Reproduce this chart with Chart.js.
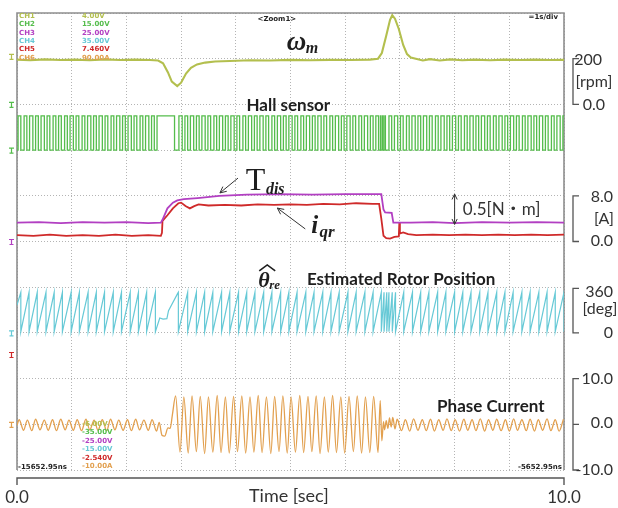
<!DOCTYPE html>
<html>
<head>
<meta charset="utf-8">
<script src="https://cdn.jsdelivr.net/npm/chart.js@4.4.1/dist/chart.umd.min.js"></script>
<style>
  html, body { margin: 0; padding: 0; background: #ffffff; }
  #wrap { width: 618px; height: 508px; }
</style>
</head>
<body>
<div id="wrap"><canvas id="scope" width="618" height="508"></canvas></div>
<script>
// ---- Recorded waveforms (time in seconds) ----

// CH1: rotor speed [rpm]
const speedTime = [0, 0.24, 0.51, 0.79, 1.06, 1.33, 1.61, 1.88, 2.16, 2.43, 2.58, 2.67, 2.76, 2.83, 2.93, 3.00, 3.09, 3.18, 3.29, 3.44, 3.62, 3.89, 4.26, 4.63, 4.99, 5.36, 5.72, 6.09, 6.45, 6.60, 6.67, 6.75, 6.82, 6.86, 6.91, 6.98, 7.06, 7.13, 7.20, 7.29, 7.42, 7.55, 7.73, 7.92, 8.14, 8.37, 8.65, 8.92, 9.20, 9.47, 9.74, 10];
const speedRpm = [196, 193, 197, 194, 196, 193, 197, 194, 196, 194, 192, 180, 140, 100, 80, 95, 135, 160, 175, 183, 188, 190, 193, 192, 195, 193, 195, 194, 196, 200, 225, 300, 370, 390, 375, 330, 260, 220, 205, 200, 192, 198, 192, 197, 193, 196, 193, 196, 194, 196, 194, 195];

// CH2: hall sensor, switching instants (signal starts low)
const hallEdges = [
  0.02, 0.07, 0.13, 0.18, 0.23, 0.29, 0.34, 0.39, 0.44, 0.50, 0.55, 0.60, 0.66, 0.71, 0.76, 0.81,
  0.87, 0.92, 0.97, 1.03, 1.08, 1.13, 1.19, 1.24, 1.29, 1.35, 1.40, 1.45, 1.50, 1.56, 1.61, 1.66,
  1.72, 1.77, 1.82, 1.88, 1.93, 1.98, 2.03, 2.09, 2.14, 2.19, 2.25, 2.30, 2.35, 2.41, 2.46, 2.51,
  2.56, 2.88,
  2.96, 3.02, 3.07, 3.12, 3.17, 3.23, 3.28, 3.33, 3.38, 3.44, 3.49, 3.54, 3.60, 3.65, 3.70, 3.76,
  3.81, 3.86, 3.91, 3.97, 4.02, 4.07, 4.13, 4.18, 4.23, 4.29, 4.34, 4.39, 4.44, 4.50, 4.55, 4.60,
  4.66, 4.71, 4.76, 4.82, 4.87, 4.92, 4.97, 5.03, 5.08, 5.13, 5.19, 5.24, 5.29, 5.35, 5.40, 5.45,
  5.50, 5.56, 5.61, 5.66, 5.72, 5.77, 5.82, 5.88, 5.93, 5.98, 6.03, 6.09, 6.14, 6.19, 6.25, 6.30,
  6.35, 6.41, 6.46, 6.51, 6.56, 6.61,
  6.645, 6.655, 6.685, 6.695, 6.725, 6.735,
  6.80, 6.85, 6.90, 6.96, 7.01, 7.06, 7.12, 7.17, 7.22, 7.28, 7.33, 7.38, 7.43, 7.49, 7.54, 7.59,
  7.65, 7.70, 7.75, 7.81, 7.86, 7.91, 7.96, 8.02, 8.07, 8.12, 8.18, 8.23, 8.28, 8.34, 8.39, 8.44,
  8.49, 8.55, 8.60, 8.65, 8.71, 8.76, 8.81, 8.87, 8.92, 8.97, 9.02, 9.08, 9.13, 9.18, 9.24, 9.29,
  9.34, 9.40, 9.45, 9.50, 9.55, 9.61, 9.66, 9.71, 9.77, 9.82, 9.87, 9.93, 9.98
];

// CH3: estimated disturbance torque [N·m]
const tdisTime = [0, 0.4, 0.8, 1.2, 1.6, 2.0, 2.4, 2.63, 2.66, 2.75, 2.85, 2.93, 3.05, 3.3, 3.7, 4.2, 4.8, 5.4, 6.0, 6.4, 6.66, 6.70, 6.73, 6.85, 6.88, 7.2, 7.6, 8.0, 8.5, 9.0, 9.5, 10];
const tdisNm = [0.33, 0.34, 0.32, 0.34, 0.33, 0.34, 0.32, 0.33, 0.38, 0.58, 0.68, 0.72, 0.74, 0.76, 0.80, 0.82, 0.83, 0.82, 0.83, 0.83, 0.83, 0.56, 0.51, 0.50, 0.33, 0.33, 0.34, 0.32, 0.34, 0.33, 0.34, 0.33];

// CH5: q-axis current [A]
const iqrTime = [0, 0.3, 0.6, 0.9, 1.2, 1.5, 1.8, 2.1, 2.4, 2.63, 2.65, 2.66, 2.75, 2.85, 2.95, 3.00, 3.08, 3.16, 3.24, 3.32, 3.5, 3.8, 4.1, 4.4, 4.7, 5.0, 5.3, 5.6, 5.9, 6.2, 6.5, 6.62, 6.66, 6.70, 6.75, 6.82, 6.90, 6.98, 6.99, 7.00, 7.06, 7.15, 7.3, 7.6, 7.9, 8.2, 8.5, 8.8, 9.1, 9.4, 9.7, 10];
const iqrAmp = [1.1, 1.0, 1.2, 1.0, 1.1, 1.0, 1.2, 1.0, 1.1, 1.0, 1.5, 3.6, 4.6, 5.8, 6.7, 6.8, 6.2, 5.8, 6.2, 6.5, 6.3, 6.4, 6.3, 6.5, 6.4, 6.5, 6.4, 6.6, 6.5, 6.7, 6.6, 6.6, 4.0, 1.0, 0.6, 0.5, 0.8, 0.9, 3.3, 1.4, 1.6, 1.3, 1.1, 1.2, 1.1, 1.2, 1.1, 1.2, 1.1, 1.2, 1.1, 1.2];

// CH4: estimated rotor position [deg], wrap instants plus the stall after the load step
const thetaWraps = [0.07, 0.22, 0.37, 0.53, 0.68, 0.83, 0.99, 1.14, 1.30, 1.45, 1.60, 1.76, 1.91, 2.07, 2.22, 2.37, 2.53,
  2.95, 3.12, 3.28, 3.43, 3.58, 3.74, 3.89, 4.05, 4.20, 4.35, 4.51, 4.66, 4.82, 4.97, 5.12, 5.28, 5.43, 5.59, 5.74, 5.89,
  6.05, 6.20, 6.36, 6.51, 6.66, 6.71, 6.76, 6.80, 6.86,
  6.92, 7.07, 7.23, 7.38, 7.53, 7.69, 7.84, 8.00, 8.15, 8.30, 8.46, 8.61, 8.77, 8.92, 9.07, 9.23, 9.38, 9.54, 9.69, 9.84, 10.0];
const thetaPeakDeg = 320;
const thetaFloorDeg = 10;
const thetaStartDeg = 220;
const thetaStallTime = [2.61, 2.67, 2.74, 2.77, 2.94];
const thetaStallDeg = [117, 108, 112, 175, 313];

// CH6: phase current [A], successive turning points
const phaseTime = [0.00,
  0.04, 0.12, 0.19, 0.27, 0.34, 0.42, 0.50, 0.57, 0.65, 0.72, 0.80, 0.88, 0.95, 1.03, 1.10, 1.18, 1.26, 1.33,
  1.41, 1.48, 1.56, 1.64, 1.71, 1.79, 1.86, 1.94, 2.02, 2.09, 2.17, 2.24, 2.32, 2.40, 2.47, 2.55,
  2.60, 2.65, 2.70, 2.76, 2.80, 2.84, 2.90,
  2.98, 3.05, 3.13, 3.20, 3.28, 3.35, 3.43, 3.50, 3.58, 3.66, 3.73, 3.81, 3.88, 3.96, 4.03, 4.11, 4.18, 4.26,
  4.33, 4.41, 4.48, 4.56, 4.64, 4.71, 4.79, 4.86, 4.94, 5.01, 5.09, 5.17, 5.24, 5.32, 5.39, 5.47, 5.54, 5.62,
  5.69, 5.77, 5.84, 5.92, 5.99, 6.07, 6.15, 6.22, 6.30, 6.37, 6.45, 6.52, 6.60,
  6.64, 6.67, 6.70, 6.72, 6.75, 6.78, 6.81, 6.84, 6.87, 6.91,
  6.95, 7.03, 7.10, 7.18, 7.25, 7.33, 7.41, 7.48, 7.56, 7.63, 7.71, 7.79, 7.86, 7.94, 8.01, 8.09, 8.17, 8.24,
  8.32, 8.39, 8.47, 8.55, 8.62, 8.70, 8.77, 8.85, 8.93, 9.00, 9.08, 9.15, 9.23, 9.31, 9.38, 9.46, 9.53, 9.61,
  9.69, 9.76, 9.84, 9.91, 9.99];
const phaseAmp = [-0.2,
  1.0, -1.3, 0.9, -1.4, 1.1, -1.2, 0.9, -1.3, 1.0, -1.4, 1.1, -1.2, 0.9, -1.3, 1.0, -1.4, 1.1, -1.2,
  0.9, -1.3, 1.0, -1.4, 1.1, -1.2, 0.9, -1.3, 1.0, -1.4, 1.1, -1.2, 0.9, -1.3, 1.0, -1.5,
  0.4, -2.4, -2.6, -0.8, -0.9, 2.0, 6.2,
  -6.1, 6.0, -6.3, 6.2, -6.0, 6.1, -6.4, 6.0, -6.1, 6.3, -6.2, 6.0, -6.3, 6.1, -6.0, 6.2, -6.3, 6.0,
  -6.1, 6.3, -6.2, 6.0, -6.4, 6.1, -6.0, 6.2, -6.3, 6.0, -6.1, 6.3, -6.2, 6.1, -6.0, 6.2, -6.4, 6.0,
  -6.1, 6.3, -6.2, 6.0, -6.3, 6.1, -6.0, 6.2, -6.3, 6.0, -6.2, 6.1, -6.2,
  5.2, -3.6, 0.6, -1.2, 0.8, -0.9, 1.4, -0.6, 1.5, -1.0,
  1.1, -1.4, 1.0, -1.5, 1.2, -1.3, 1.0, -1.4, 1.1, -1.5, 1.0, -1.3, 1.2, -1.4, 1.0, -1.5, 1.1, -1.3,
  1.0, -1.4, 1.2, -1.5, 1.0, -1.3, 1.1, -1.4, 1.0, -1.5, 1.2, -1.3, 1.0, -1.4, 1.1, -1.5, 1.0, -1.3,
  1.2, -1.4, 1.0, -1.5, 1.1];

// ---- Axis and readout texts ----
const timeTickLabels = ['0.0', '10.0'];
const timeTitle = 'Time [sec]';
const speedScaleLabels = ['200', '[rpm]', '0.0'];
const iqrScaleLabels = ['8.0', '[A]', '0.0'];
const thetaScaleLabels = ['360', '[deg]', '0'];
const phaseScaleLabels = ['10.0', '0.0', '-10.0'];
const channelNames = ['CH1', 'CH2', 'CH3', 'CH4', 'CH5', 'CH6'];
const channelTop = ['4.00V', '15.00V', '25.00V', '35.00V', '7.460V', '90.00A'];
const channelBottom = ['-6.00V', '-35.00V', '-25.00V', '-15.00V', '-2.540V', '-10.00A'];

const COL = {
  speed: '#b3bf4e',
  hall: '#55bd4c',
  tdis: '#b23fc2',
  iqr: '#cf2a2a',
  theta: '#66c9d6',
  phase: '#e2a04f'
};

const xy = (ts, vs) => ts.map((t, i) => ({ x: t, y: vs[i] }));

function hallSeries() {
  let level = 0;
  const p = [{ x: 0, y: level }];
  for (const e of hallEdges) {
    p.push({ x: e, y: level });
    level = 1 - level;
    p.push({ x: e, y: level });
  }
  p.push({ x: 10, y: level });
  return p;
}

function thetaSeries() {
  const p = [{ x: 0, y: thetaStartDeg }];
  for (const w of thetaWraps) {
    p.push({ x: w, y: thetaPeakDeg }, { x: w, y: thetaFloorDeg });
  }
  thetaStallTime.forEach((t, i) => p.push({ x: t, y: thetaStallDeg[i] }));
  return p.sort((a, b) => a.x - b.x);
}

function line(data, axis, color, width, extra) {
  return Object.assign({
    data, yAxisID: axis, borderColor: color, borderWidth: width,
    pointRadius: 0, tension: 0, fill: false
  }, extra || {});
}

// Overlay: frame, bottom time bracket, side scales and annotations
const scopeDecor = {
  id: 'scopeDecor',
  beforeDatasetsDraw(chart) {
    const { ctx, chartArea: a } = chart;
    ctx.save();
    ctx.strokeStyle = '#8e8e8e';
    ctx.lineWidth = 1.6;
    ctx.beginPath();
    ctx.moveTo(a.left, a.bottom);
    ctx.lineTo(a.left, a.top);
    ctx.lineTo(a.right, a.top);
    ctx.lineTo(a.right, a.bottom);
    ctx.stroke();
    ctx.restore();
  },
  afterDatasetsDraw(chart) {
    const { ctx, chartArea: a, scales: s } = chart;
    const X = v => s.x.getPixelForValue(v);
    const Y = (id, v) => s[id].getPixelForValue(v);
    const text = (str, x, y, font, color, align, base) => {
      ctx.font = font;
      ctx.fillStyle = color;
      ctx.textAlign = align || 'left';
      ctx.textBaseline = base || 'alphabetic';
      ctx.fillText(str, x, y);
    };
    const arrowHead = (x1, y1, x2, y2, len) => {
      const ang = Math.atan2(y2 - y1, x2 - x1);
      ctx.beginPath();
      ctx.moveTo(x2 - len * Math.cos(ang - 0.45), y2 - len * Math.sin(ang - 0.45));
      ctx.lineTo(x2, y2);
      ctx.lineTo(x2 - len * Math.cos(ang + 0.45), y2 - len * Math.sin(ang + 0.45));
      ctx.stroke();
    };
    ctx.save();

    // bottom time bracket
    const yb = a.bottom + 8;
    ctx.strokeStyle = '#555';
    ctx.lineWidth = 1.4;
    ctx.beginPath();
    ctx.moveTo(X(0), yb + 7); ctx.lineTo(X(0), yb); ctx.lineTo(X(10), yb); ctx.lineTo(X(10), yb + 7);
    ctx.stroke();
    const axFont = '17px Lato, "Noto Sans", sans-serif';
    text(timeTickLabels[0], X(0), 503, axFont, '#333', 'center');
    text(timeTickLabels[1], X(10), 503, axFont, '#333', 'center');
    text(timeTitle, X(4.97), 502, '18px Lato, "Noto Sans", sans-serif', '#333', 'center');

    // side scale brackets
    const bx = a.right + 9;
    const bracket = (id, vTop, vBot, vMid) => {
      ctx.strokeStyle = '#555';
      ctx.lineWidth = 1.3;
      ctx.beginPath();
      ctx.moveTo(bx + 6, Y(id, vTop)); ctx.lineTo(bx, Y(id, vTop));
      ctx.lineTo(bx, Y(id, vBot)); ctx.lineTo(bx + 6, Y(id, vBot));
      if (vMid !== undefined) { ctx.moveTo(bx, Y(id, vMid)); ctx.lineTo(bx + 6, Y(id, vMid)); }
      ctx.stroke();
    };
    const sf = '16px Lato, "Noto Sans", sans-serif';
    bracket('ySpeed', 200, 0);
    text(speedScaleLabels[0], 602, Y('ySpeed', 200) + 1, sf, '#333', 'right', 'middle');
    text(speedScaleLabels[1], 594, Y('ySpeed', 100), sf, '#333', 'center', 'middle');
    text(speedScaleLabels[2], 605, Y('ySpeed', 0), sf, '#333', 'right', 'middle');
    bracket('yIq', 8, 0);
    text(iqrScaleLabels[0], 613, Y('yIq', 8) + 1, sf, '#333', 'right', 'middle');
    text(iqrScaleLabels[1], 604, Y('yIq', 4), sf, '#333', 'center', 'middle');
    text(iqrScaleLabels[2], 613, Y('yIq', 0) - 1, sf, '#333', 'right', 'middle');
    bracket('yTheta', 350, 0);
    text(thetaScaleLabels[0], 613, Y('yTheta', 360) + 5, sf, '#333', 'right', 'middle');
    text(thetaScaleLabels[1], 600, Y('yTheta', 180) - 1, sf, '#333', 'center', 'middle');
    text(thetaScaleLabels[2], 613, Y('yTheta', 0), sf, '#333', 'right', 'middle');
    bracket('yPhase', 10, -10, 0);
    text(phaseScaleLabels[0], 613, Y('yPhase', 10), sf, '#333', 'right', 'middle');
    text(phaseScaleLabels[1], 613, Y('yPhase', 0) - 1, sf, '#333', 'right', 'middle');
    text(phaseScaleLabels[2], 613, Y('yPhase', -10), sf, '#333', 'right', 'middle');

    // trace titles
    const ink = '#1e1e1e';
    const bold = '17px Lato, "Noto Sans", sans-serif';
    text('\u03c9', X(4.93), Y('ySpeed', 238), 'bold italic 27px "Liberation Serif", serif', ink);
    text('m', X(5.28), Y('ySpeed', 226), 'bold italic 16px "Liberation Serif", serif', ink);
    text('Hall sensor', X(4.96), Y('yHall', 1.14), 'bold ' + bold, ink, 'center');

    text('T', X(4.18), Y('yTd', 0.90), '32px "Liberation Serif", serif', ink);
    text('dis', X(4.55), Y('yTd', 0.83), 'bold italic 16px "Liberation Serif", serif', ink);
    ctx.strokeStyle = '#333';
    ctx.lineWidth = 1;
    ctx.beginPath(); ctx.moveTo(X(4.04), Y('yTd', 1.11)); ctx.lineTo(X(3.71), Y('yTd', 0.85)); ctx.stroke();
    arrowHead(X(4.04), Y('yTd', 1.11), X(3.71), Y('yTd', 0.85), 7);

    text('i', X(5.38), Y('yIq', 1.5), 'bold italic 25px "Liberation Serif", serif', ink);
    text('qr', X(5.53), Y('yIq', 0.8), 'bold italic 17px "Liberation Serif", serif', ink);
    ctx.beginPath(); ctx.moveTo(X(5.27), Y('yIq', 2.2)); ctx.lineTo(X(4.76), Y('yIq', 5.85)); ctx.stroke();
    arrowHead(X(5.27), Y('yIq', 2.2), X(4.76), Y('yIq', 5.85), 7);

    // 0.5 N·m step marker
    const ax = X(8.0), ya = Y('yTd', 0.83), yz = Y('yTd', 0.30);
    ctx.beginPath(); ctx.moveTo(ax, ya); ctx.lineTo(ax, yz); ctx.stroke();
    arrowHead(ax, yz, ax, ya, 6);
    arrowHead(ax, ya, ax, yz, 6);
    text('0.5[N\u30fbm]', X(8.15), Y('yTd', 0.46), '17px Lato, "Noto Sans CJK JP", sans-serif', '#333');

    // rotor position title with hat
    const tx = X(4.41), ty = Y('yTheta', 362);
    text('\u03b8', tx, ty, 'bold italic 22px "Liberation Serif", serif', ink);
    text('re', tx + 11, ty + 2, 'bold italic 13px "Liberation Serif", serif', ink);
    ctx.strokeStyle = ink; ctx.lineWidth = 1.6;
    ctx.beginPath(); ctx.moveTo(tx + 1, ty - 16); ctx.lineTo(tx + 9, ty - 22); ctx.lineTo(tx + 17, ty - 16); ctx.stroke();
    text('Estimated Rotor Position', X(5.30), Y('yTheta', 377), 'bold ' + bold, ink);
    text('Phase Current', X(7.68), Y('yPhase', 2.8), 'bold ' + bold, ink);

    // scope readouts
    const chCols = [COL.speed, COL.hall, COL.tdis, COL.theta, COL.iqr, COL.phase];
    const rf = 'bold 7px "DejaVu Sans", sans-serif';
    channelNames.forEach((n, i) => {
      const yy = 16 + i * 8.4;
      text(n, 19, yy, rf, chCols[i], 'left', 'middle');
      text(channelTop[i], 82, yy, rf, chCols[i], 'left', 'middle');
      text(channelBottom[i], 82, 424 + i * 8.5, rf, chCols[i], 'left', 'middle');
    });
    text('<Zoom1>', X(4.75), 19, rf, '#222', 'center', 'middle');
    text('=1s/div', 558, 17, rf, '#222', 'right', 'middle');
    text('-15652.95ns', 18, a.bottom - 3, rf, '#222', 'left', 'middle');
    text('-5652.95ns', a.right - 2, a.bottom - 3, rf, '#222', 'right', 'middle');

    // channel ground markers
    const marks = [['ySpeed', 210, COL.speed], ['ySpeed', 0, COL.hall], ['yHall', 0, COL.hall],
      ['yIq', 0, COL.tdis], ['yTheta', 0, COL.theta], ['yTheta', -170, COL.iqr], ['yPhase', 0, COL.phase]];
    ctx.lineWidth = 1.2;
    for (const [id, v, c] of marks) {
      const my = Y(id, v);
      ctx.strokeStyle = c;
      ctx.beginPath();
      ctx.moveTo(a.left - 8, my - 2); ctx.lineTo(a.left - 3, my - 2);
      ctx.moveTo(a.left - 5.5, my - 2); ctx.lineTo(a.left - 5.5, my + 3);
      ctx.moveTo(a.left - 7.5, my + 3); ctx.lineTo(a.left - 3.5, my + 3);
      ctx.stroke();
    }
    ctx.restore();
  }
};

const hidden = (min, max) => ({ type: 'linear', display: false, min, max });
const dotted = { color: '#b4b4b4', lineWidth: 1, drawTicks: false };

new Chart(document.getElementById('scope'), {
  type: 'line',
  data: {
    datasets: [
      line(xy(phaseTime, phaseAmp), 'yPhase', COL.phase, 1.3, { cubicInterpolationMode: 'monotone' }),
      line(thetaSeries(), 'yTheta', COL.theta, 1.2),
      line(xy(tdisTime, tdisNm), 'yTd', COL.tdis, 1.8),
      line(xy(iqrTime, iqrAmp), 'yIq', COL.iqr, 1.8),
      line(hallSeries(), 'yHall', COL.hall, 1.3),
      line(xy(speedTime, speedRpm), 'ySpeed', COL.speed, 2.1)
    ]
  },
  options: {
    responsive: false,
    animation: false,
    devicePixelRatio: 1,
    layout: { padding: { left: 17, top: 13, right: 54, bottom: 38 } },
    plugins: { legend: { display: false }, tooltip: { enabled: false } },
    scales: {
      x: {
        type: 'linear', min: 0, max: 10,
        ticks: { display: false, stepSize: 1 },
        grid: dotted, border: { display: false, dash: [1, 2] },
        afterFit: sc => { sc.height = 0; }
      },
      div: {
        type: 'linear', position: 'left', min: 0, max: 10,
        ticks: { display: false, stepSize: 1 },
        grid: dotted, border: { display: false, dash: [1, 2] },
        afterFit: sc => { sc.width = 0; }
      },
      ySpeed: hidden(-1600, 400),
      yHall: hidden(-28 / 3, 4),
      yTd: hidden(-4, 4),
      yIq: hidden(-40, 40),
      yTheta: hidden(-1080, 2520),
      yPhase: hidden(-10, 90)
    }
  },
  plugins: [scopeDecor]
});
</script>
</body>
</html>
